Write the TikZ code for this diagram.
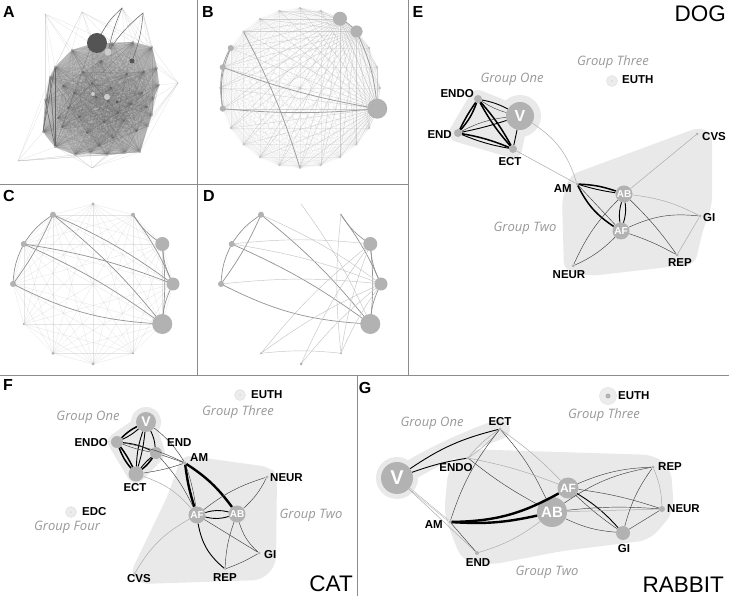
\documentclass[tikz,border=0pt]{standalone}
\usepackage{fontspec}
\setmainfont{Liberation Sans}
\newfontfamily\grpfont{Open Sans}
\usetikzlibrary{calc}
\pgfdeclarelayer{background}
\pgfsetlayers{background,main}
\definecolor{hullcol}{gray}{0.915}
\definecolor{ndcol}{gray}{0.70}
\definecolor{bordcol}{gray}{0.55}
\definecolor{adark}{gray}{0.33}
\begin{document}
\begin{tikzpicture}[x=1pt,y=-1pt,
 nd/.style={circle,fill=ndcol,inner sep=0pt,minimum size=#1},
 nd/.default=3,
 ethin/.style={line width=0.45pt,draw=black!75},
 egray/.style={line width=0.5pt,draw=gray!65},
 emed/.style={line width=0.9pt,draw=black},
 ethick/.style={line width=1.5pt,draw=black},
 ebold/.style={line width=2.4pt,draw=black},
 lbl/.style={font=\bfseries\fontsize{11.5}{11.5}\selectfont,inner sep=0pt},
 grp/.style={font=\grpfont\itshape\fontsize{13}{13}\selectfont,text=gray!80,inner sep=0pt},
 species/.style={font=\fontsize{22.5}{22.5}\selectfont,inner sep=0pt},
 plet/.style={font=\bfseries\fontsize{16}{16}\selectfont,inner sep=0pt},
 wtxt/.style={text=white,font=\bfseries\fontsize{#1}{#1}\selectfont},
 hullc/.style={draw=hullcol,fill=hullcol},
 border/.style={draw=bordcol,line width=0.9pt},
 aedge/.style={draw=black!60,line width=0.3pt,opacity=0.2},
 afan/.style={draw=gray!70,line width=0.25pt,opacity=0.35},
 adk/.style={draw=black!60,line width=0.5pt},
 bl/.style={draw=gray!60,line width=0.25pt,opacity=0.22},
 bfan/.style={draw=gray!65,line width=0.35pt,opacity=0.4},
 bdk/.style={draw=gray!75,line width=0.8pt},
 cl/.style={draw=gray!50,line width=0.3pt,opacity=0.4},
 cdk/.style={draw=gray!85,line width=0.7pt},
 light/.style={circle,fill=gray!15,draw=gray!30,line width=0.3pt,inner sep=0pt,minimum size=#1}
]
\useasboundingbox (0,0) rectangle (729,596);
\begin{pgfonlayer}{background}
\fill[white] (0,0) rectangle (729,596);
\end{pgfonlayer}

% ---------------- borders
\draw[border] (197,0)--(197,375);
\draw[border] (0,184)--(408,184);
\draw[border] (408,0)--(408,375);
\draw[border] (0,375)--(729,375);
\draw[border] (357,375)--(357,596);

% ---------------- panel A
\foreach \px/\py [count=\i] in {72/50,92/44,112/43,133/42,152/47,157/68,159/85,154/98,152/115,148/126,140/152,125/153,107/155,90/153,75/155,55/147,43/132,45/100,50/77,55/67,83/72,101/61,127/74,142/93,118/113,96/97,68/108,87/133,113/138,137/131,62/127,104/122,92/83,111/88,131/104,74/93,58/118,99/146,124/121,147/107,79/117,108/101,144/72,63/86}
  \coordinate (a\i) at (\px,\py);
\foreach \px/\py [count=\i] in {45/14,82/12,122/8,143/13,178/83,18/161,92/168}
  \coordinate (ao\i) at (\px,\py);
\fill[gray!50,rounded corners=4pt] (a1) \foreach \i in {2,...,20}{--(a\i)} --cycle;
\foreach \i in {1,...,43}{\pgfmathtruncatemacro\s{\i+1}\foreach \j in {\s,...,44}{\draw[aedge] (a\i)--(a\j);}}
\foreach \o/\l in {1/{1,2,3,18,19,20,21},2/{1,2,3,4,5,19,20,22},3/{2,3,4,5,6,7,22,23},4/{3,4,5,6,7,8},5/{4,5,6,7,8,9,10,11,12},6/{11,12,13,14,15,16,17,18,19},7/{9,10,11,12,13,14,15,16,17}}
  {\foreach \j in \l {\draw[afan] (ao\o)--(a\j);}}
\foreach \u/\v in {20/17,19/16,18/16,20/16,19/17}
  \draw[adk] (a\u)--(a\v);
\foreach \i in {1,...,20}{\node[circle,fill=gray!60,inner sep=0pt,minimum size=2pt] (an\i) at (a\i) {};}
\node[circle,fill=adark,inner sep=0pt,minimum size=20pt] (aBig) at (97,43) {};
\node[circle,fill=gray!40,inner sep=0pt,minimum size=7pt] (aL1) at (108,52) {};
\node[circle,fill=adark,inner sep=0pt,minimum size=5pt] (aD1) at (132,61) {};
\node[circle,fill=gray!40,inner sep=0pt,minimum size=6pt] (aL2) at (107,97) {};
\node[circle,fill=gray!40,inner sep=0pt,minimum size=4pt] (aL3) at (93,94) {};
\node[circle,fill=adark,inner sep=0pt,minimum size=3pt] (aD2) at (117,102) {};
\draw[adk] (ao3) to[bend right=10] (aBig);
\draw[adk] (ao3) to[bend right=5] (aL1);
\draw[adk] (ao4) to[bend left=8] (aD1);
\draw[adk] (ao4) to[bend right=8] (aL1);
\node[plet] (labA) at (9,12) {A};

% ---------------- panel B
\foreach \k in {0,...,23} \coordinate (b\k) at ($(300,88)+(\k*15:80)$);
\foreach \i in {0,...,22}{\pgfmathtruncatemacro\s{\i+1}\foreach \j in {\s,...,23}{\draw[bl] (b\i)--(b\j);}}
\foreach \h in {1,20,21}{\foreach \k in {0,...,23}{\draw[bfan] (b\h)--(b\k);}}
\draw[bdk] (b14) to[bend right=10] (b13);
\draw[bdk] (b13) to[bend right=10] (b11);
\draw[bdk] (b14) to[bend right=15] (b11);
\draw[bdk] (b13) to[bend right=5] (b1);
\draw[bdk] (b11) to[bend right=5] (b1);
\draw[bdk] (b15) to[bend left=5] (b6);
\draw[bdk] (b20) to[bend left=10] (b21);
\draw[bdk] (b21) to[bend left=10] (b1);
\foreach \k in {0,...,23}{\node[circle,fill=gray!45,inner sep=0pt,minimum size=2pt] (bn\k) at (b\k) {};}
\node[nd=20] (bBig) at (b1) {};
\node[nd=14] (bN20) at (b20) {};
\node[nd=12] (bN21) at (b21) {};
\node[nd=6] (bN14) at (b14) {};
\node[nd=6] (bN13) at (b13) {};
\node[nd=6] (bN11) at (b11) {};
\node[plet] (labB) at (208,12) {B};

% ---------------- panel C
\foreach \k in {0,...,11} \coordinate (c\k) at ($(93,284)+(-90+\k*30:80)$);
\foreach \i in {0,...,10}{\pgfmathtruncatemacro\s{\i+1}\foreach \j in {\s,...,11}{\draw[cl] (c\i)--(c\j);}}
\foreach \u/\v in {11/10,10/9,9/4,1/2,2/3,3/4}
  \draw[cdk] (c\u) to[bend right=12] (c\v);
\foreach \u/\v in {11/9,11/4,10/4,1/3,2/4,11/3,10/3}
  \draw[cdk] (c\u) to[bend left=6] (c\v);
\node[nd=3] (cN0) at (c0) {};
\node[nd=4] (cN1) at (c1) {};
\node[nd=14] (cN2) at (c2) {};
\node[nd=13] (cN3) at (c3) {};
\node[nd=20] (cN4) at (c4) {};
\node[nd=2] (cN5) at (c5) {};
\node[nd=3] (cN6) at (c6) {};
\node[nd=3] (cN7) at (c7) {};
\node[nd=2] (cN8) at (c8) {};
\node[nd=6] (cN9) at (c9) {};
\node[nd=6] (cN10) at (c10) {};
\node[nd=6] (cN11) at (c11) {};
\node[plet] (labC) at (9,196) {C};

% ---------------- panel D
\foreach \k in {0,...,11} \coordinate (d\k) at ($(301,284)+(-90+\k*30:80)$);
\foreach \u/\v in {11/10,10/9,9/4,1/2,2/3,3/4}
  \draw[cdk] (d\u) to[bend right=12] (d\v);
\foreach \u/\v in {11/9,11/4,10/4,2/4,1/3}
  \draw[cdk] (d\u) to[bend left=6] (d\v);
\foreach \u/\v in {11/3,10/3,9/3,10/2,0/4,7/2,7/3,6/2,5/1,7/5,6/3,5/3,5/2}
  \draw[draw=gray!45,line width=0.45pt] (d\u) to[bend left=6] (d\v);
\node[nd=6] (dN11) at (d11) {};
\node[nd=6] (dN10) at (d10) {};
\node[nd=6] (dN9) at (d9) {};
\node[nd=14] (dN2) at (d2) {};
\node[nd=13] (dN3) at (d3) {};
\node[nd=20] (dN4) at (d4) {};
\node[nd=2] (dN1) at (d1) {};
\node[nd=2] (dN5) at (d5) {};
\node[nd=3] (dN6) at (d6) {};
\node[nd=2] (dN7) at (d7) {};
\node[plet] (labD) at (209,196) {D};

% ---------------- panel E (DOG)
\node[nd=8] (eENDO) at (478,99) {};
\node[nd=8] (eEND) at (458,133) {};
\node[nd=28,wtxt=16] (eV) at (520,116) {V};
\node[nd=8] (eECT) at (513,149) {};
\node[light=11] (eEUTH) at (612,81) {};
\node[nd=3] (eCVS) at (697,134) {};
\node[nd=3] (eAM) at (577,184) {};
\node[nd=17,wtxt=10] (eAB) at (624,194) {AB};
\node[nd=17,wtxt=10] (eAF) at (621,231) {AF};
\node[nd=3] (eGI) at (700,216) {};
\node[nd=3] (eREP) at (677,255) {};
\node[nd=3] (eNEUR) at (573,266) {};
\begin{pgfonlayer}{background}
\filldraw[hullc,line width=18pt,line join=round] (eENDO.center)--(eV.center)--(eECT.center)--(eEND.center)--cycle;
\fill[hullcol] (eV.center) circle (21);
\fill[hullcol,rounded corners=8pt] (570,175)--(700,127)--(712,134)--(712,205)--(703,230)--(695,264)--(590,276)--(564,270)--(562,200)--cycle;
\end{pgfonlayer}
\draw[ethick] (eENDO) to[bend left=10] (eEND);
\draw[ethick] (eENDO) to[bend right=4] (eEND);
\draw[ethick] (eENDO) to[bend left=6] (eECT);
\draw[ethick] (eENDO) to[bend right=6] (eECT);
\draw[emed] (eENDO) to[bend left=8] (eV);
\draw[ethin] (eENDO) to[bend right=8] (eV);
\draw[ethick] (eEND) to[bend left=6] (eECT);
\draw[emed] (eEND) to[bend right=6] (eECT);
\draw[ethin] (eEND) to[bend left=10] (eV);
\draw[emed] (eEND) to[bend right=3] (eV);
\draw[emed] (eV) -- (eECT);
\draw[egray] (eV) to[bend left=20] (eAM);
\draw[egray] (eECT) -- (eAM);
\draw[ethick] (eAM) to[bend left=8] (eAB);
\draw[emed] (eAM) to[bend right=4] (eAB);
\draw[ethick] (eAM) to[bend right=15] (eAF);
\draw[ethin] (eAM) -- (eAF);
\draw[emed] (eAB) to[bend left=12] (eAF);
\draw[emed] (eAB) to[bend right=12] (eAF);
\draw[egray] (eAB) -- (eCVS);
\draw[egray] (eAB) to[bend left=10] (eGI);
\draw[ethin] (eAB) to[bend left=5] (eREP);
\draw[ethin] (eAB) to[bend right=10] (eNEUR);
\draw[ethin] (eAF) to[bend left=15] (eGI);
\draw[ethin] (eAF) to[bend left=5] (eREP);
\draw[ethin] (eAF) to[bend left=10] (eNEUR);
\draw[egray] (eGI) -- (eREP);
\node[circle,fill=gray!40,inner sep=0pt,minimum size=1.5pt] (eEUTHdot) at (eEUTH) {};
\node[lbl,anchor=east] (eENDOl) at (474,94) {ENDO};
\node[lbl,anchor=east] (eENDl) at (452,135) {END};
\node[lbl] (eECTl) at (510,162) {ECT};
\node[lbl,anchor=west] (eEUTHl) at (622,80) {EUTH};
\node[lbl,anchor=west] (eCVSl) at (702,137) {CVS};
\node[lbl,anchor=east] (eAMl) at (572,189) {AM};
\node[lbl,anchor=west] (eGIl) at (703,218) {GI};
\node[lbl] (eREPl) at (680,263) {REP};
\node[lbl] (eNEURl) at (569,275) {NEUR};
\node[grp] (eG1) at (512,79) {Group One};
\node[grp] (eG3) at (613,62) {Group Three};
\node[grp] (eG2) at (525,228) {Group Two};
\node[species,anchor=base east] (eDOG) at (726,22) {DOG};
\node[plet] (labE) at (418,12) {E};

% ---------------- panel F (CAT)
\node[nd=20,wtxt=14] (fV) at (146,422) {V};
\node[nd=12] (fENDO) at (117,442) {};
\node[nd=12] (fEND) at (156,453) {};
\node[nd=15] (fECT) at (136,474) {};
\node[light=11] (fEUTH) at (240,395) {};
\node[nd=3] (fAM) at (185,463) {};
\node[nd=3] (fNEUR) at (267,477) {};
\node[nd=17,wtxt=10] (fAF) at (197,515) {AF};
\node[nd=17,wtxt=10] (fAB) at (237,514) {AB};
\node[light=11] (fEDC) at (71,512) {};
\node[nd=3] (fGI) at (259,553) {};
\node[nd=2] (fCVS) at (135,573) {};
\node[nd=2] (fREP) at (225,569) {};
\begin{pgfonlayer}{background}
\filldraw[hullc,line width=18pt,line join=round] (fV.center)--(fEND.center)--(fECT.center)--(fENDO.center)--cycle;
\fill[hullcol] (fV.center) circle (15);
\fill[hullcol,rounded corners=9pt] (182,455)--(270,467)--(277,475)--(276,565)--(262,580)--(140,584)--(130,574)--(168,495)--cycle;
\end{pgfonlayer}
\draw[ethick] (fV) to[bend right=8] (fENDO);
\draw[emed] (fV) to[bend left=8] (fENDO);
\draw[emed] (fV) to[bend right=8] (fECT);
\draw[emed] (fV) to[bend left=5] (fECT);
\draw[emed] (fV) to[bend left=10] (fEND);
\draw[ethick] (fENDO) to[bend right=10] (fECT);
\draw[ethick] (fENDO) to[bend left=5] (fECT);
\draw[emed] (fENDO) to[bend left=10] (fEND);
\draw[ethin] (fENDO) to[bend right=5] (fEND);
\draw[ethick] (fEND) to[bend left=8] (fECT);
\draw[emed] (fEND) to[bend right=5] (fECT);
\draw[ethin] (fV) to[bend left=10] (fAM);
\draw[ethin] (fENDO) to[bend left=8] (fAM);
\draw[ethin] (fEND) -- (fAM);
\draw[ethin] (fECT) to[bend right=5] (fAM);
\draw[egray] (fECT) to[bend left=15] (fAF);
\draw[ethin] (fEND) to[bend left=8] (fAF);
\draw[ebold] (fAM) to[bend right=5] (fAF);
\draw[ebold] (fAM) to[bend left=10] (fAB);
\draw[emed] (fAF) to[bend left=15] (fAB);
\draw[emed] (fAF) to[bend right=15] (fAB);
\draw[ethin] (fAM) to[bend left=5] (fAF);
\draw[ethin] (fAF) to[bend left=10] (fNEUR);
\draw[ethin] (fAB) to[bend right=10] (fNEUR);
\draw[ethin] (fAF) -- (fGI);
\draw[emed] (fAF) to[bend right=20] (fREP);
\draw[ethin] (fAB) to[bend right=8] (fREP);
\draw[ethin] (fAB) to[bend right=15] (fGI);
\draw[ethin] (fGI) to[bend left=5] (fREP);
\draw[egray] (fAF) to[bend right=15] (fCVS);
\node[circle,fill=gray!40,inner sep=0pt,minimum size=1.5pt] (fEUTHdot) at (fEUTH) {};
\node[circle,fill=gray!40,inner sep=0pt,minimum size=1.5pt] (fEDCdot) at (fEDC) {};
\node[lbl,anchor=east] (fENDOl) at (108,443) {ENDO};
\node[lbl,anchor=west] (fENDl) at (167,443) {END};
\node[lbl] (fECTl) at (135,488) {ECT};
\node[lbl,anchor=west] (fAMl) at (190,458) {AM};
\node[lbl,anchor=west] (fNEURl) at (270,478) {NEUR};
\node[lbl,anchor=west] (fEUTHl) at (251,395) {EUTH};
\node[lbl,anchor=west] (fEDCl) at (82,512) {EDC};
\node[lbl,anchor=west] (fGIl) at (264,555) {GI};
\node[lbl] (fCVSl) at (139,579) {CVS};
\node[lbl] (fREPl) at (225,578) {REP};
\node[grp] (fG1) at (88,417) {Group One};
\node[grp] (fG3) at (238,412) {Group Three};
\node[grp] (fG4) at (67,527) {Group Four};
\node[grp] (fG2) at (311,515) {Group Two};
\node[species,anchor=base east] (fCAT) at (353,591) {CAT};
\node[plet] (labF) at (8,385) {F};

% ---------------- panel G (RABBIT)
\node[nd=32,wtxt=20] (gV) at (397,478) {V};
\node[nd=3] (gECT) at (500,429) {};
\node[nd=3] (gENDO) at (468,458) {};
\node[nd=3] (gAM) at (450,522) {};
\node[nd=4] (gEND) at (477,553) {};
\node[nd=21,wtxt=12] (gAF) at (568,488) {AF};
\node[nd=30,wtxt=15] (gAB) at (552,512) {AB};
\node[nd=3] (gREP) at (653,467) {};
\node[nd=6] (gNEUR) at (662,509) {};
\node[nd=14] (gGI) at (623,533) {};
\node[light=17] (gEUTHb) at (608,396) {};
\node[nd=5] (gEUTH) at (608,396) {};
\begin{pgfonlayer}{background}
\fill[hullcol] (gV.center) circle (21);
\draw[draw=hullcol,line width=20pt,line cap=round] (gV.center) to[bend left=5] (gECT.center);
\fill[hullcol,rounded corners=12pt] (462,449)--(655,455)--(671,468)--(674,512)--(650,540)--(562,551)--(490,565)--(462,561)--(444,515)--(448,470)--cycle;
\end{pgfonlayer}
\draw[emed] (gV) to[bend left=10] (gECT);
\draw[emed] (gV) to[bend left=5] (gENDO);
\draw[egray,line width=1.4pt] (gV) -- (gAM);
\draw[draw=white,line width=0.5pt] (gV) -- (gAM);
\draw[egray] (gV) -- (gEND);
\draw[egray] (gECT) to[bend left=8] (gENDO);
\draw[egray] (gECT) to[bend right=8] (gENDO);
\draw[ethin] (gECT) to[bend left=8] (gAB);
\draw[egray] (gECT) to[bend left=5] (gAF);
\draw[ethin] (gENDO) to[bend right=5] (gAB);
\draw[egray] (gENDO) to[bend left=5] (gAF);
\draw[ebold] (gAM) to[bend right=8] (gAB);
\draw[ebold] (gAM) to[bend right=14] (gAF);
\draw[ethin] (gAM) -- (gEND);
\draw[ethin] (gAM) to[bend left=10] (gECT);
\draw[egray] (gEND) to[bend right=10] (gAB);
\draw[ethin] (gAF) to[bend left=10] (gREP);
\draw[ethin] (gAB) to[bend left=12] (gREP);
\draw[emed] (gAF) to[bend left=8] (gGI);
\draw[ethin] (gAF) to[bend right=4] (gGI);
\draw[ethin] (gAB) to[bend right=10] (gGI);
\draw[ethin] (gAF) to[bend left=5] (gNEUR);
\draw[egray] (gAB) -- (gNEUR);
\draw[ethin] (gAB) to[bend left=5] (gNEUR);
\draw[ethin] (gREP) to[bend right=10] (gGI);
\draw[egray] (gREP) to[bend left=10] (gNEUR);
\draw[ethin] (gGI) -- (gNEUR);
\node[lbl] (gECTl) at (500,422) {ECT};
\node[lbl] (gENDOl) at (456,468) {ENDO};
\node[lbl,anchor=east] (gAMl) at (443,525) {AM};
\node[lbl] (gENDl) at (478,563) {END};
\node[lbl,anchor=west] (gREPl) at (658,467) {REP};
\node[lbl,anchor=west] (gNEURl) at (667,509) {NEUR};
\node[lbl] (gGIl) at (624,549) {GI};
\node[lbl,anchor=west] (gEUTHl) at (618,396) {EUTH};
\node[grp] (gG3) at (604,415) {Group Three};
\node[grp] (gG1) at (432,423) {Group One};
\node[grp] (gG2) at (547,572) {Group Two};
\node[species,anchor=base east] (gRAB) at (724,592) {RABBIT};
\node[plet] (labG) at (365,388) {G};
\end{tikzpicture}
\end{document}
